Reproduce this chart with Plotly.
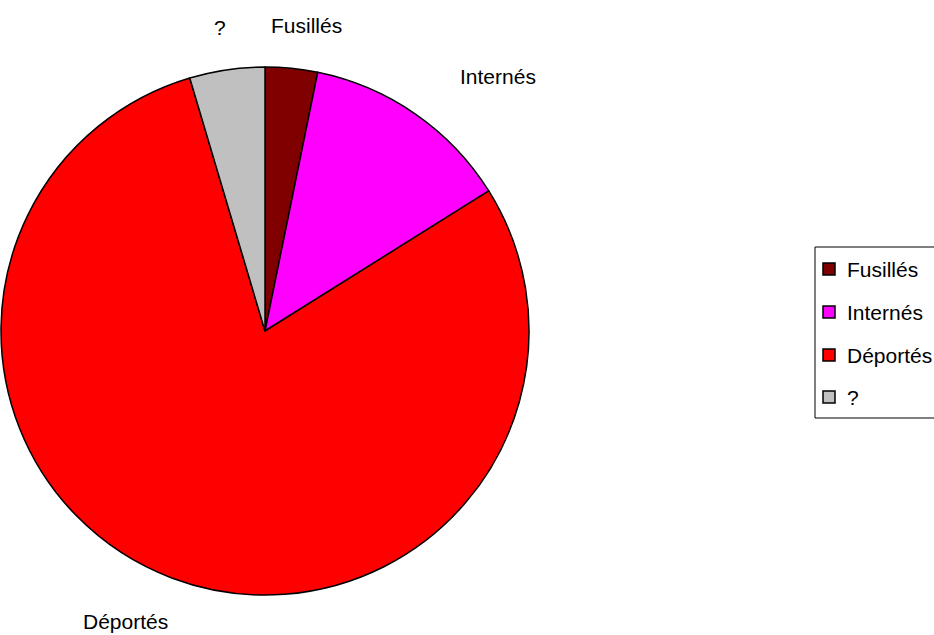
import plotly.graph_objects as go

labels = ["Fusillés", "Internés", "Déportés", "?"]
values = [3.2, 12.9, 79.3, 4.6]
colors = ["#800000", "#FF00FF", "#FF0000", "#C0C0C0"]

W, H = 934, 635
cx, cy, r = 265, 331, 264
FONT = "Liberation Sans, Arial"
FS = 21

fig = go.Figure(go.Pie(
    labels=labels, values=values, sort=False, direction="clockwise", rotation=0,
    marker=dict(colors=colors, line=dict(color="black", width=1.5)),
    textinfo="none", hoverinfo="label+percent", showlegend=False,
    domain=dict(x=[(cx - r) / W, (cx + r) / W], y=[1 - (cy + r) / H, 1 - (cy - r) / H]),
))

label_pos = {"?": (220, 27), "Fusillés": (306, 26), "Internés": (498, 76), "Déportés": (125, 621)}
for name, (x, y) in label_pos.items():
    fig.add_annotation(text=name, x=x / W, y=1 - y / H, xref="paper", yref="paper",
                       showarrow=False, xanchor="center", yanchor="middle",
                       font=dict(family=FONT, size=FS, color="black"))

# manual legend (box, swatches, texts)
shapes = [dict(type="rect", xref="paper", yref="paper",
               x0=815 / W, x1=960 / W, y0=1 - 418 / H, y1=1 - 247 / H,
               line=dict(color="black", width=1), fillcolor="white", layer="below")]
leg_y = [269, 312, 355, 397]
for lab, col, y in zip(labels, colors, leg_y):
    shapes.append(dict(type="rect", xref="paper", yref="paper",
                       x0=823 / W, x1=835 / W, y0=1 - (y + 6) / H, y1=1 - (y - 6) / H,
                       line=dict(color="black", width=1.5), fillcolor=col))
    fig.add_annotation(text=lab, x=845 / W, y=1 - y / H, xref="paper", yref="paper",
                       showarrow=False, xanchor="left", yanchor="middle",
                       font=dict(family=FONT, size=FS, color="black"))

fig.update_layout(
    width=W, height=H, margin=dict(l=0, r=0, t=0, b=0),
    paper_bgcolor="white", plot_bgcolor="white",
    font=dict(family=FONT, size=FS, color="black"),
    shapes=shapes, showlegend=False,
)
fig.write_html("out.html")
